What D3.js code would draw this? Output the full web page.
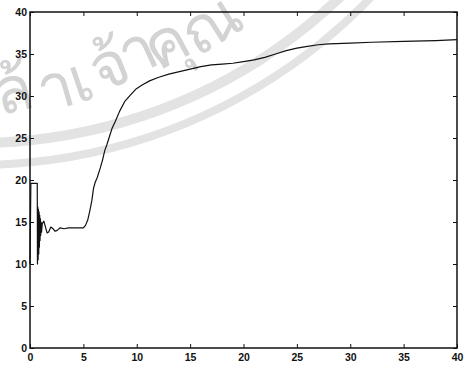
<!DOCTYPE html>
<html>
<head>
<meta charset="utf-8">
<script src="https://cdn.jsdelivr.net/npm/d3@7/dist/d3.min.js"></script>
<style>
  html, body { margin: 0; padding: 0; background: #fff; }
  svg { display: block; }
</style>
</head>
<body>
<svg id="chart" width="466" height="367"></svg>
<script>
// Step response: time (s) and measured output
const timeS = [
  0, 0.08, 0.68, 0.70, 0.73, 0.76, 0.79, 0.82, 0.85, 0.88, 0.91, 0.94, 0.97, 1.00,
  1.04, 1.08, 1.15, 1.3, 1.45, 1.6, 1.75, 1.95, 2.15, 2.35, 2.55, 2.8, 3.2, 3.6,
  4.0, 4.5, 5.0, 5.2, 5.4, 5.6, 5.8, 5.95, 6.1, 6.3, 6.6, 6.8, 7.0, 7.2, 7.4, 7.7,
  8.0, 8.4, 8.9, 9.4, 9.9, 10.5, 11.2, 12.0, 13.0, 14.0, 15.0, 16.0, 17.0, 18.0,
  19.0, 20.0, 21.0, 22.0, 23.0, 24.0, 25.0, 26.0, 27.0, 28.0, 30.0, 32.0, 35.0,
  38.0, 40.0
];
const response = [
  10.0, 19.6, 19.6, 10.0, 16.8, 10.5, 16.5, 11.2, 16.2, 12.0, 15.8, 12.8, 15.4, 13.4,
  15.0, 13.8, 14.8, 15.1, 14.4, 13.7, 13.8, 14.4, 14.2, 13.9, 14.0, 14.3, 14.2, 14.3,
  14.3, 14.3, 14.3, 14.6, 15.2, 16.3, 17.6, 19.0, 19.7, 20.3, 21.5, 22.4, 23.5, 24.2, 25.0, 26.2,
  27.0, 28.2, 29.4, 30.1, 30.8, 31.3, 31.8, 32.2, 32.6, 32.9, 33.2, 33.5, 33.7, 33.8,
  33.9, 34.1, 34.3, 34.6, 35.0, 35.4, 35.7, 35.9, 36.1, 36.2, 36.3, 36.4, 36.5,
  36.6, 36.7
];
const xTicks = [0, 5, 10, 15, 20, 25, 30, 35, 40];
const yTicks = [0, 5, 10, 15, 20, 25, 30, 35, 40];
// Seal lettering, one glyph cluster at a time along the lower rim
const sealGlyphs = ["ล้", "า", "เ", "จ้", "า", "คุ", "ณ"];

const svg = d3.select("#chart");
const W = 466, H = 367;
const margin = { top: 12, right: 9, bottom: 19, left: 30 };
const iw = W - margin.left - margin.right;
const ih = H - margin.top - margin.bottom;

// Faint library seal behind the plot: two ring bands and curved lettering
const seal = { cx: -24, cy: -384 };
const deg = Math.PI / 180;
const ringPath = (r, a0, a1) => {
  const p = d3.path();
  p.arc(seal.cx, seal.cy, r, a0 * deg, a1 * deg, true);
  return p.toString();
};
const wm = svg.append("g").attr("fill", "none").attr("stroke", "#e3e3e3");
wm.append("path").attr("d", ringPath(527, 100, 35)).attr("stroke-width", 10);
wm.append("path").attr("d", ringPath(549, 100, 35)).attr("stroke-width", 8);

// glyph body centres and tilt along the rim
const glyphPos = [
  [14, 95, -14], [57, 91, -16], [82, 84, -19], [111, 70, -22],
  [139, 55, -25], [168, 47, -28], [213, 28, -32]
];
const fs = 64;
svg.append("g").attr("fill", "#d3d3d3")
  .attr("font-family", "Noto Sans, DejaVu Sans, sans-serif")
  .attr("font-size", fs)
  .selectAll("text").data(sealGlyphs).join("text")
  .attr("transform", (d, i) => `translate(${glyphPos[i][0]},${glyphPos[i][1]}) rotate(${glyphPos[i][2]})`)
  .attr("text-anchor", "middle")
  .attr("y", fs * 0.27)
  .text(d => d);

const g = svg.append("g").attr("transform", `translate(${margin.left},${margin.top})`);

const x = d3.scaleLinear().domain([0, 40]).range([0, iw]);
const y = d3.scaleLinear().domain([0, 40]).range([ih, 0]);

// Axes with inward ticks on all four sides
const axBottom = g.append("g").attr("transform", `translate(0,${ih})`)
  .call(d3.axisBottom(x).tickValues(xTicks).tickSize(-4).tickPadding(6).tickFormat(d3.format("d")));
const axLeft = g.append("g")
  .call(d3.axisLeft(y).tickValues(yTicks).tickSize(-4).tickPadding(3).tickFormat(d3.format("d")));
const axTop = g.append("g")
  .call(d3.axisTop(x).tickValues(xTicks).tickSize(-4).tickFormat(""));
const axRight = g.append("g").attr("transform", `translate(${iw},0)`)
  .call(d3.axisRight(y).tickValues(yTicks).tickSize(-4).tickFormat(""));
[axBottom, axLeft, axTop, axRight].forEach(a => {
  a.select(".domain").remove();
  a.selectAll(".tick line").attr("stroke", "#111").attr("stroke-width", 1);
  a.selectAll(".tick text")
    .attr("font-family", "Liberation Sans, Arial, sans-serif")
    .attr("font-weight", "bold").attr("font-size", 10.5).attr("fill", "#111");
});
axLeft.selectAll(".tick text").attr("dy", "0.36em");

g.append("rect").attr("width", iw).attr("height", ih)
  .attr("fill", "none").attr("stroke", "#111").attr("stroke-width", 1.5);

const line = d3.line()
  .x((d, i) => x(timeS[i]))
  .y(d => y(d));

g.append("path").datum(response)
  .attr("fill", "none").attr("stroke", "#111").attr("stroke-width", 1.2)
  .attr("stroke-linejoin", "round")
  .attr("d", line);
</script>
</body>
</html>
